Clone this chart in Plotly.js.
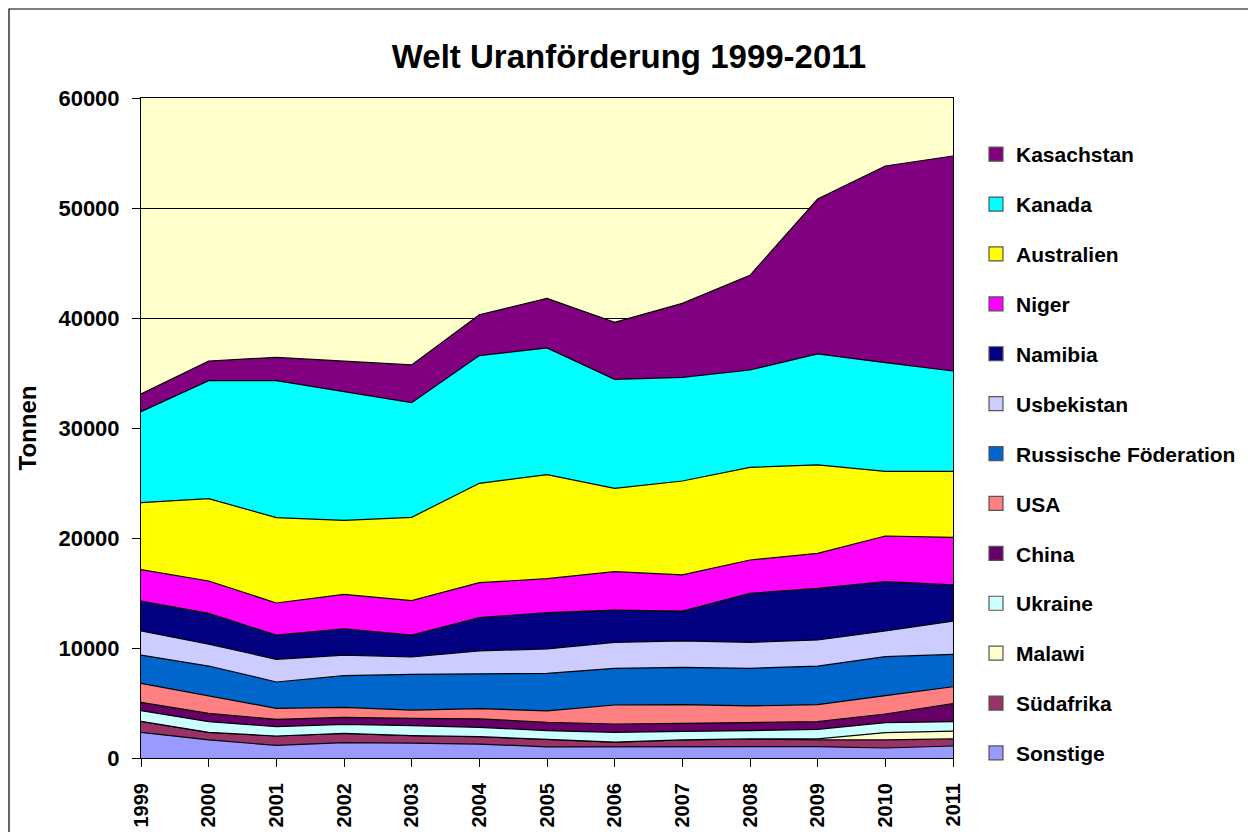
<!DOCTYPE html>
<html>
<head>
<meta charset="utf-8">
<script src="https://cdn.plot.ly/plotly-3.0.1.min.js"></script>
<style>
  body { margin: 0; background: #ffffff; }
  #chart { width: 1248px; height: 832px; }
</style>
</head>
<body>
<div id="chart"></div>
<script>
// Uranförderung in Tonnen, von unten nach oben gestapelt
const years = [1999, 2000, 2001, 2002, 2003, 2004, 2005, 2006, 2007, 2008, 2009, 2010, 2011];

const sonstige   = [2330, 1640, 1150, 1390, 1360, 1270, 1020, 1030, 1030, 1030, 1030, 910, 1090];
const suedafrika = [1000, 690, 850, 850, 670, 670, 680, 420, 610, 700, 610, 730, 640];
const malawi     = [0, 0, 0, 0, 0, 0, 0, 0, 0, 0, 100, 660, 720];
const ukraine    = [970, 970, 850, 820, 910, 850, 780, 880, 780, 750, 870, 910, 850];
const china      = [760, 760, 670, 640, 670, 760, 770, 760, 730, 760, 690, 790, 1640];
const usa        = [1730, 1580, 1000, 910, 750, 930, 1030, 1730, 1700, 1490, 1550, 1670, 1540];
const russland   = [2570, 2720, 2390, 2870, 3250, 3190, 3420, 3330, 3390, 3420, 3510, 3540, 2940];
const usbekistan = [2190, 2000, 2060, 1880, 1570, 2060, 2220, 2370, 2400, 2370, 2370, 2340, 3030];
const namibia    = [2720, 2790, 2210, 2370, 2000, 3030, 3300, 2930, 2720, 4450, 4690, 4480, 3280];
const niger      = [2850, 2940, 2910, 3150, 3120, 3180, 3080, 3490, 3280, 3030, 3190, 4150, 4330];
const australien = [6090, 7490, 7760, 6730, 7580, 9030, 9460, 7580, 8540, 8420, 8030, 5880, 6000];
const kanada     = [8270, 10720, 12450, 11690, 10420, 11610, 11520, 9900, 9430, 8850, 10090, 9880, 9120];
const kasachstan = [1610, 1790, 2120, 2790, 3430, 3720, 4510, 5190, 6720, 8610, 14090, 17880, 19550];

const seriesNames = ['Sonstige', 'Südafrika', 'Malawi', 'Ukraine', 'China', 'USA',
  'Russische Föderation', 'Usbekistan', 'Namibia', 'Niger', 'Australien', 'Kanada', 'Kasachstan'];
const seriesValues = [sonstige, suedafrika, malawi, ukraine, china, usa,
  russland, usbekistan, namibia, niger, australien, kanada, kasachstan];
const seriesColors = ['#9999FF', '#993366', '#FFFFCC', '#CCFFFF', '#660066', '#FF8080',
  '#0066CC', '#CCCCFF', '#000080', '#FF00FF', '#FFFF00', '#00FFFF', '#800080'];

const boldFont = { family: 'Liberation Sans, Arial, sans-serif', color: '#000000', weight: 'bold' };

// gestapelte Flächen
const areaTraces = seriesNames.map((name, i) => ({
  x: years,
  y: seriesValues[i],
  name: name,
  type: 'scatter',
  mode: 'lines',
  stackgroup: 'one',
  fillcolor: seriesColors[i],
  line: { color: '#000000', width: 1.2 },
  showlegend: false,
  hoverinfo: 'x+y+name'
}));

// Legende mit quadratischen Symbolen, oberster Eintrag zuerst
const legendTraces = seriesNames.slice().reverse().map((name, i) => {
  const idx = seriesNames.length - 1 - i;
  return {
    x: [null],
    y: [null],
    name: name,
    type: 'scatter',
    mode: 'markers',
    legendgroup: 'g' + i,
    marker: { symbol: 'square', size: 14, color: seriesColors[idx], line: { color: '#555555', width: 1.2 } },
    showlegend: true
  };
});

const layout = {
  width: 1248,
  height: 832,
  margin: { l: 141, r: 295, t: 98, b: 74 },
  paper_bgcolor: '#ffffff',
  plot_bgcolor: '#FFFFCC',
  title: {
    text: 'Welt Uranförderung 1999-2011',
    font: Object.assign({}, boldFont, { size: 33 }),
    xref: 'container',
    yref: 'container',
    x: 0.504,
    y: 0.932,
    xanchor: 'center',
    yanchor: 'middle'
  },
  xaxis: {
    range: [1999, 2011],
    tickmode: 'array',
    tickvals: years,
    ticktext: years.map(String),
    tickangle: -90,
    ticks: 'outside',
    ticklen: 8,
    tickcolor: '#000000',
    ticklabelstandoff: 8,
    showgrid: false,
    zeroline: false,
    showline: true,
    linecolor: '#000000',
    linewidth: 1,
    mirror: true,
    tickfont: Object.assign({}, boldFont, { size: 20 }),
    fixedrange: true
  },
  yaxis: {
    title: {
      text: 'Tonnen',
      font: Object.assign({}, boldFont, { size: 24 }),
      standoff: 15
    },
    range: [0, 60000],
    dtick: 10000,
    ticks: 'outside',
    ticklen: 8,
    tickcolor: '#000000',
    ticklabelstandoff: 8,
    showgrid: true,
    gridcolor: '#000000',
    gridwidth: 1,
    zeroline: false,
    showline: true,
    linecolor: '#000000',
    linewidth: 1,
    mirror: true,
    tickformat: 'd',
    tickfont: Object.assign({}, boldFont, { size: 22 }),
    fixedrange: true
  },
  legend: {
    xref: 'container',
    yref: 'container',
    x: 976 / 1248,
    y: 1 - 134 / 832,
    xanchor: 'left',
    yanchor: 'top',
    maxheight: 720,
    bgcolor: 'rgba(0,0,0,0)',
    font: Object.assign({}, boldFont, { size: 21 }),
    traceorder: 'grouped',
    tracegroupgap: 19.6,
    itemclick: false,
    itemdoubleclick: false
  },
  shapes: [{
    // äußerer Rahmen des Diagramms
    type: 'rect',
    xref: 'paper',
    yref: 'paper',
    x0: (9 - 141) / 812,
    x1: (1260 - 141) / 812,
    y0: (758 - 845) / 660,
    y1: (758 - 9) / 660,
    line: { color: '#000000', width: 1.2 },
    fillcolor: 'rgba(0,0,0,0)',
    layer: 'below'
  }]
};

Plotly.newPlot('chart', areaTraces.concat(legendTraces), layout, { displayModeBar: false, staticPlot: true });
</script>
</body>
</html>
